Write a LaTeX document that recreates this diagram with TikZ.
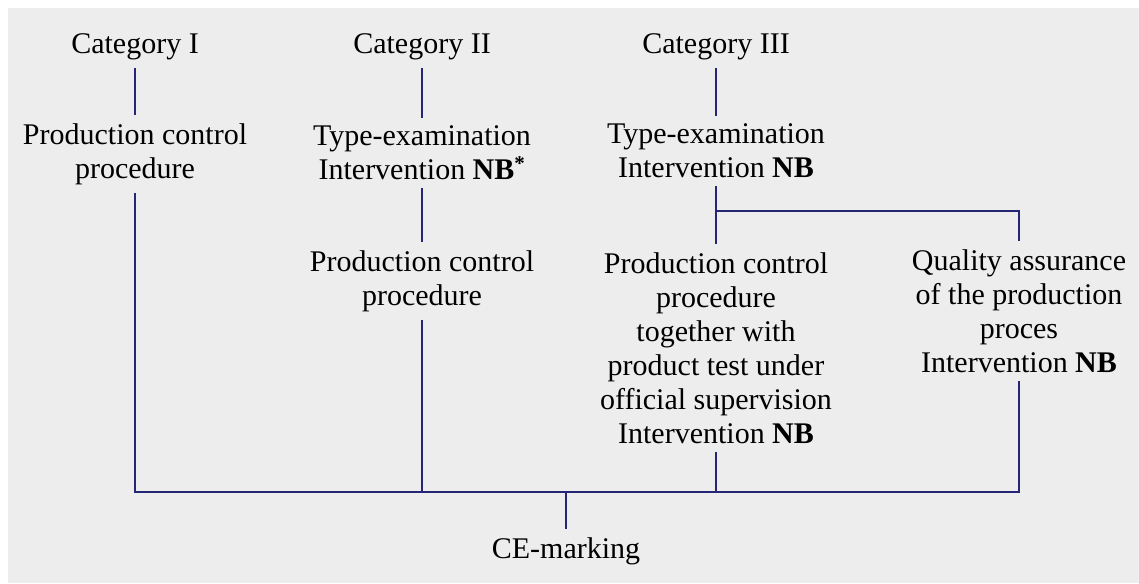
\documentclass[tikz,border=0pt]{standalone}
\usepackage{fontspec}
\setmainfont{Liberation Serif}
\definecolor{panel}{RGB}{237,237,237}
\definecolor{wire}{RGB}{38,38,118}
\begin{document}
\begin{tikzpicture}
	[x=1pt,y=-1pt,every node/.style={align=center,
	inner xsep=2pt,inner ysep=8pt,
	font=\fontsize{30}{34}\selectfont}]
	\useasboundingbox (0,0) rectangle (1139,583);
	\fill[panel] (8,8) rectangle (1139,583);

	\node (cat1) at (135,47)  {Category I};
	\node (cat2) at (422,47)  {Category II};
	\node (cat3) at (716,47)  {Category III};

	\node (pc1) at (135,154) {Production control\\procedure};
	\node (te2) at (422,153) {Type-examination\\Intervention \textbf{NB}\textsuperscript{\textbf{*}}};
	\node (te3) at (716,151) {Type-examination\\Intervention \textbf{NB}};

	\node (pc2) at (422,281) {Production control\\procedure};
	\node (pt3) at (716,348) {Production control\\procedure\\together with\\product test under\\official supervision\\Intervention \textbf{NB}};
	\node (qa)  at (1019,311) {Quality assurance\\of the production\\proces\\Intervention \textbf{NB}};

	\node (ce) at (566,551) {CE-marking};

	\coordinate (fork) at (716,211); % te3 -> qa
	\coordinate (bus)  at (566,492); % naar CE

	\begin{scope}[draw=wire,line width=1.6pt]
	\foreach \from/\to in {cat1/pc1,cat2/te2,te2/pc2,cat3/te3,te3/pt3}
		\draw (\from.south) -- (\to.north);
	\draw (fork) -| (qa.north);
	\foreach \n in {pc1,pc2,pt3,qa}
		\draw (\n.south) |- (bus);
	\draw (bus) -- (ce.north);
	\end{scope}
\end{tikzpicture}
\end{document}
